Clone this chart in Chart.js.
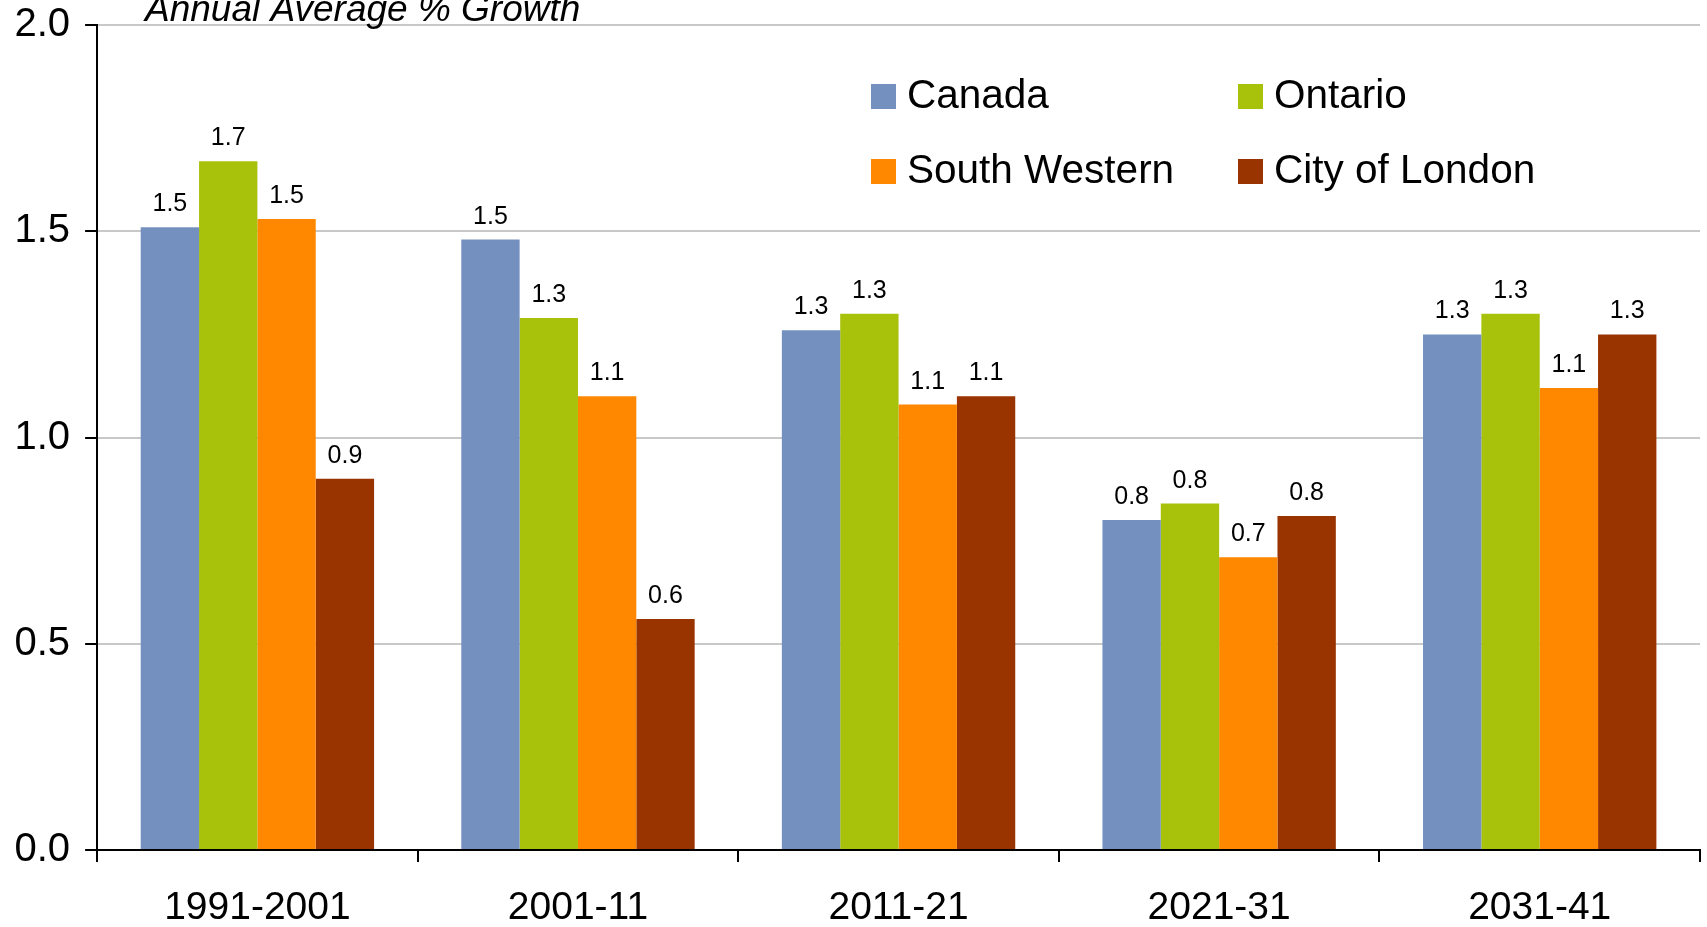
<!DOCTYPE html>
<html>
<head>
<meta charset="utf-8">
<title>Annual Average % Growth</title>
<script src="https://cdn.jsdelivr.net/npm/chart.js@4"></script>
<style>
  html, body { margin: 0; padding: 0; background: #fff; }
  #wrap { width: 1707px; height: 927px; }
</style>
</head>
<body>
<div id="wrap"><canvas id="growthChart" width="1707" height="927"></canvas></div>
<script>
// data
const periods = ['1991-2001', '2001-11', '2011-21', '2021-31', '2031-41'];
const canada = [1.51, 1.48, 1.26, 0.80, 1.25];
const ontario = [1.67, 1.29, 1.30, 0.84, 1.30];
const southWestern = [1.53, 1.10, 1.08, 0.71, 1.12];
const cityOfLondon = [0.90, 0.56, 1.10, 0.81, 1.25];
const seriesNames = ['Canada', 'Ontario', 'South Western', 'City of London'];
const seriesColors = ['#7490BF', '#A8C10A', '#FF8800', '#993300'];
const yTicks = [0, 0.5, 1.0, 1.5, 2.0];
const chartTitle = 'Annual Average % Growth';

const FONT = '"Liberation Sans", Arial, sans-serif';

// value labels above each bar
const barLabels = {
  id: 'barLabels',
  afterDatasetsDraw(chart) {
    const ctx = chart.ctx;
    ctx.save();
    ctx.font = '25px ' + FONT;
    ctx.fillStyle = '#000';
    ctx.textAlign = 'center';
    ctx.textBaseline = 'alphabetic';
    chart.data.datasets.forEach((ds, i) => {
      chart.getDatasetMeta(i).data.forEach((bar, j) => {
        ctx.fillText(ds.data[j].toFixed(1), bar.x, bar.y - 16);
      });
    });
    ctx.restore();
  }
};

// italic title at top left and 2x2 legend
const decorations = {
  id: 'decorations',
  afterDraw(chart) {
    const ctx = chart.ctx;
    ctx.save();
    ctx.fillStyle = '#000';
    ctx.font = 'italic 37px ' + FONT;
    ctx.textBaseline = 'alphabetic';
    ctx.textAlign = 'left';
    ctx.fillText(chartTitle, 145, 21);

    const colX = [871, 1238];
    const rowY = [96, 171];
    ctx.font = '40.5px ' + FONT;
    ctx.textBaseline = 'middle';
    chart.data.datasets.forEach((ds, i) => {
      const x = colX[i % 2];
      const y = rowY[Math.floor(i / 2)];
      ctx.fillStyle = ds.backgroundColor;
      ctx.fillRect(x, y - 12, 25, 25);
      ctx.fillStyle = '#000';
      ctx.fillText(ds.label, x + 36, y + 1);
    });
    ctx.restore();
  }
};

const allSeries = [canada, ontario, southWestern, cityOfLondon];

new Chart(document.getElementById('growthChart'), {
  type: 'bar',
  data: {
    labels: periods,
    datasets: allSeries.map((vals, i) => ({
      label: seriesNames[i],
      data: vals,
      backgroundColor: seriesColors[i],
      borderWidth: 0,
      barPercentage: 1.0,
      categoryPercentage: 0.728
    }))
  },
  options: {
    responsive: false,
    animation: false,
    devicePixelRatio: 1,
    layout: { padding: { left: -0.5, right: 7, top: 0, bottom: -28 } },
    plugins: {
      legend: { display: false },
      tooltip: { enabled: false }
    },
    scales: {
      x: {
        grid: {
          offset: true,
          drawOnChartArea: false,
          color: '#000',
          tickLength: 12,
          lineWidth: 2
        },
        border: { color: '#000', width: 2 },
        ticks: {
          color: '#000',
          font: { family: FONT, size: 39, lineHeight: 1.0 },
          padding: 27,
          maxRotation: 0
        }
      },
      y: {
        min: 0,
        max: 2,
        afterBuildTicks: axis => { axis.ticks = yTicks.map(v => ({ value: v })); },
        grid: {
          color: '#C8C8C8',
          lineWidth: 2,
          tickColor: '#000',
          tickLength: 12
        },
        border: { color: '#000', width: 2 },
        ticks: {
          color: '#000',
          font: { family: FONT, size: 40, lineHeight: 0.5 },
          padding: 15,
          callback: v => Number(v).toFixed(1)
        }
      }
    }
  },
  plugins: [barLabels, decorations]
});
</script>
</body>
</html>
